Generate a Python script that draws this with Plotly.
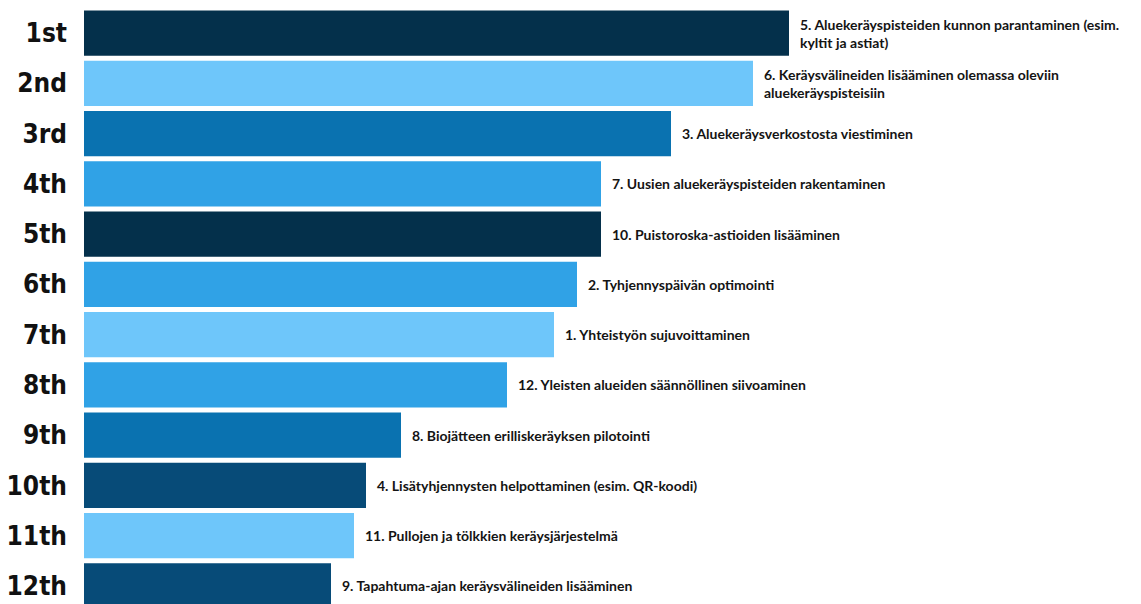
import plotly.graph_objects as go

ranks = ["1st", "2nd", "3rd", "4th", "5th", "6th", "7th", "8th", "9th", "10th", "11th", "12th"]
labels = [
    "5. Aluekeräyspisteiden kunnon parantaminen (esim.<br>kyltit ja astiat)",
    "6. Keräysvälineiden lisääminen olemassa oleviin<br>aluekeräyspisteisiin",
    "3. Aluekeräysverkostosta viestiminen",
    "7. Uusien aluekeräyspisteiden rakentaminen",
    "10. Puistoroska-astioiden lisääminen",
    "2. Tyhjennyspäivän optimointi",
    "1. Yhteistyön sujuvoittaminen",
    "12. Yleisten alueiden säännöllinen siivoaminen",
    "8. Biojätteen erilliskeräyksen pilotointi",
    "4. Lisätyhjennysten helpottaminen (esim. QR-koodi)",
    "11. Pullojen ja tölkkien keräysjärjestelmä",
    "9. Tapahtuma-ajan keräysvälineiden lisääminen",
]
scores = [705, 669, 587, 517, 517, 493, 470, 423, 317, 282, 270, 247]
colors = ["#04304b", "#6ec6fa", "#0a72b0", "#30a2e6", "#04304b", "#30a2e6",
          "#6ec6fa", "#30a2e6", "#0a72b0", "#074b78", "#6ec6fa", "#074b78"]

positions = list(range(len(ranks)))

fig = go.Figure()
fig.add_trace(go.Bar(
    x=scores, y=positions, orientation="h",
    marker=dict(color=colors, line=dict(width=0)),
    hoverinfo="skip",
))

for p, s, lab in zip(positions, scores, labels):
    fig.add_annotation(
        x=s, y=p, text=lab, showarrow=False, xanchor="left", yanchor="middle",
        xshift=9, align="left",
        font=dict(family="Lato", size=14, color="#141414", weight="bold"),
    )

fig.update_layout(
    width=1141, height=604,
    margin=dict(l=84, r=0, t=8, b=0, autoexpand=False),
    paper_bgcolor="white", plot_bgcolor="white",
    bargap=0.1, showlegend=False,
)
fig.update_xaxes(range=[0, 1057], visible=False, automargin=False)
fig.update_yaxes(
    range=[11.36, -0.5], tickmode="array", tickvals=positions, ticktext=ranks,
    showgrid=False, zeroline=False, showline=False, ticks="",
    ticklabelstandoff=16, automargin=False,
    tickfont=dict(family="DejaVu Sans Condensed", size=26, color="#111111", weight="bold"),
)

fig.write_html("out.html", config={"displayModeBar": False},
               post_script="document.body.style.margin='0';document.body.style.overflow='hidden';")
